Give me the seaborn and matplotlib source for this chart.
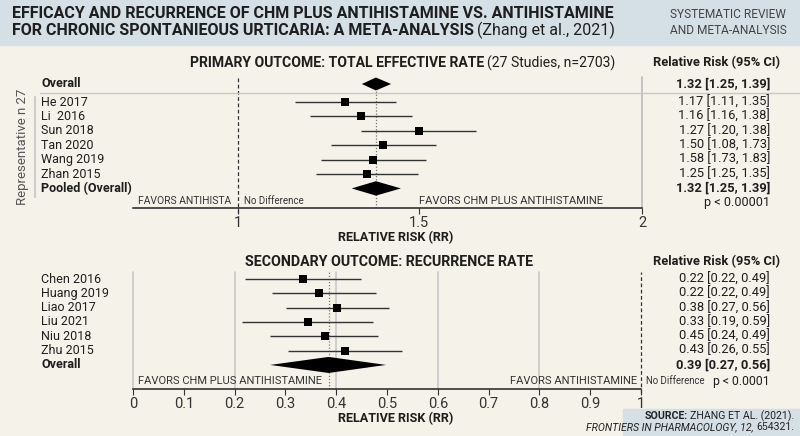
import matplotlib
matplotlib.use("Agg")
import matplotlib.pyplot as plt
import seaborn as sns
import numpy as np
import pandas as pd
from matplotlib.patches import Rectangle
from matplotlib.lines import Line2D
from matplotlib.transforms import blended_transform_factory

# ---------------- data ----------------
primary_labels = ["Overall", "He 2017", "Li  2016", "Sun 2018", "Tan 2020",
                  "Wang 2019", "Zhan 2015", "Pooled (Overall)"]
primary_ci_text = ["1.32 [1.25, 1.39]", "1.17 [1.11, 1.35]", "1.16 [1.16, 1.38]",
                   "1.27 [1.20, 1.38]", "1.50 [1.08, 1.73]", "1.58 [1.73, 1.83]",
                   "1.25 [1.25, 1.35]", "1.32 [1.25, 1.39]"]
primary_study_rr = [1.296, 1.340, 1.499, 1.401, 1.374, 1.356]
primary_study_lo = [1.157, 1.199, 1.340, 1.257, 1.228, 1.215]
primary_study_hi = [1.436, 1.481, 1.628, 1.537, 1.516, 1.497]
primary_overall = [1.381, 1.342, 1.423]   # est, lo, hi (diamond)
primary_pooled = [1.381, 1.314, 1.450]
primary_p = "p < 0.00001"
primary_ticks = [1, 1.5, 2]
primary_tick_labels = ["1", "1.5", "2"]

secondary_labels = ["Chen 2016", "Huang 2019", "Liao 2017", "Liu 2021",
                    "Niu 2018", "Zhu 2015", "Overall"]
secondary_ci_text = ["0.22 [0.22, 0.49]", "0.22 [0.22, 0.49]", "0.38 [0.27, 0.56]",
                     "0.33 [0.19, 0.59]", "0.45 [0.24, 0.49]", "0.43 [0.26, 0.55]",
                     "0.39 [0.27, 0.56]"]
secondary_study_rr = [0.335, 0.366, 0.402, 0.345, 0.377, 0.417]
secondary_study_lo = [0.220, 0.273, 0.301, 0.214, 0.270, 0.305]
secondary_study_hi = [0.449, 0.478, 0.504, 0.473, 0.483, 0.529]
secondary_overall = [0.385, 0.270, 0.498]
secondary_p = "p < 0.0001"
secondary_ticks = [0, 0.1, 0.2, 0.3, 0.4, 0.5, 0.6, 0.7, 0.8, 0.9, 1.0]
secondary_tick_labels = ["0", "0.1", "0.2", "0.3", "0.4", "0.5", "0.6", "0.7", "0.8", "0.9", "1"]
secondary_grid = [0, 0.2, 0.4, 0.6, 0.8]

# ---------------- style ----------------
sns.set_theme(style="white")
NARROW = ["Liberation Sans Narrow", "Roboto", "DejaVu Sans"]
REG = ["Roboto", "DejaVu Sans"]
plt.rcParams["font.family"] = REG

BG = "#f5f2ea"
BAND = "#d5dfe6"
INK = "#1e1e1e"
GREY = "#555555"

W, H = 800, 436
fig = plt.figure(figsize=(W / 100, H / 100), dpi=100, facecolor=BG)
renderer = fig.canvas.get_renderer()


def fr(x0, y0, x1, y1):
    return [x0 / W, 1 - y1 / H, (x1 - x0) / W, (y1 - y0) / H]


def put(x, y, s, size, weight="normal", family=NARROW, ha="left", color=INK,
        style="normal", **kw):
    return fig.text(x / W, 1 - y / H, s, fontsize=size, fontweight=weight,
                    family=family, ha=ha, va="center", color=color,
                    fontstyle=style, **kw)


def x1px(t):
    return t.get_window_extent(renderer).x1


def x0px(t):
    return t.get_window_extent(renderer).x0


def fit(t, width):
    w = t.get_window_extent(renderer).width
    t.set_fontsize(t.get_fontsize() * width / w)


def size_for(s, width, family, weight="normal"):
    t = fig.text(0, 0, s, fontsize=10, family=family, fontweight=weight)
    w = t.get_window_extent(renderer).width
    t.remove()
    return 10 * width / w


# header band and source box
fig.patches.append(Rectangle((0, 1 - 45 / H), 1, 45 / H, transform=fig.transFigure,
                             color=BAND, zorder=0))
fig.patches.append(Rectangle((623 / W, 0), (W - 623) / W, 27 / H,
                             transform=fig.transFigure, color=BAND, zorder=0))

# title
t1 = put(12, 14, "EFFICACY AND RECURRENCE OF CHM PLUS ANTIHISTAMINE VS. ANTIHISTAMINE",
         12, weight="bold")
fit(t1, 600)
ts = t1.get_fontsize()
t2 = put(12, 30.5, "FOR CHRONIC SPONTANIEOUS URTICARIA: A META-ANALYSIS", ts, weight="bold")
put(x1px(t2) + 3, 30.5, "(Zhang et al., 2021)", ts)
h1 = put(670, 15, "SYSTEMATIC REVIEW", 9.5, color="#444444")
fit(h1, 117)
put(670, 30, "AND META-ANALYSIS", h1.get_fontsize(), color="#444444")

LAB_FS = size_for("Wang 2019", 63, REG)
VAL_FS = size_for("1.17 [1.11, 1.35]", 91, REG)

# ---------------- primary panel ----------------
def fwd(x):
    return np.interp(x, [0, 1, 1.5, 2, 3], [238 - 362, 238, 419, 642, 642 + 446])


def inv(p):
    return np.interp(p, [238 - 362, 238, 419, 642, 642 + 446], [0, 1, 1.5, 2, 3])


ax1 = fig.add_axes(fr(133, 77, 642, 208))
ax1.set_facecolor("none")
ax1.set_xscale("function", functions=(fwd, inv))
ax1.set_xlim(inv(133), 2)

n1 = len(primary_study_rr)
y_over1 = 0.0
y_st1 = 1.25 + np.arange(n1)
y_pool1 = y_st1[-1] + 1
ax1.set_ylim(8.61, -0.486)

df1 = pd.DataFrame({"rr": primary_study_rr, "lo": primary_study_lo,
                    "hi": primary_study_hi, "y": y_st1})
ax1.hlines(df1["y"], df1["lo"], df1["hi"], color="#333333", lw=1.0, zorder=3)
sns.scatterplot(data=df1, x="rr", y="y", marker="s", s=38, color="black",
                edgecolor="black", linewidth=0, ax=ax1, legend=False, zorder=4)


def diamond(ax, est, lo, hi, y, h):
    ax.fill([lo, est, hi, est], [y, y - h, y, y + h], color="black", zorder=4, lw=0)


diamond(ax1, *primary_overall, y_over1, 0.45)
diamond(ax1, *primary_pooled, y_pool1, 0.5)

ax1.axvline(1, ymin=-0.04, ymax=1, clip_on=False, ls=(0, (3, 2)), color="#333333", lw=0.9)
ax1.axvline(primary_pooled[0], ymin=0, ymax=0.97, ls=(0, (1, 1.5)), color="#777777", lw=0.9)
ax1.axvline(2, ymin=0, ymax=1, clip_on=False, color="#bbbbbb", lw=1.2)

for s in ["top", "right", "left"]:
    ax1.spines[s].set_visible(False)
ax1.spines["bottom"].set_color("#222222")
ax1.spines["bottom"].set_linewidth(1.1)
ax1.set_xticks(primary_ticks)
ax1.set_xticklabels(primary_tick_labels)
ax1.xaxis.set_minor_locator(matplotlib.ticker.NullLocator())
ax1.tick_params(axis="x", bottom=True, length=4, width=0.8, color="#333333",
                labelsize=10.5, labelcolor="#333333", pad=2)
ax1.set_yticks([])
ax1.set_xlabel("")
ax1.set_ylabel("")
for lab in ax1.get_xticklabels():
    lab.set_family(REG)

tr1 = blended_transform_factory(fig.transFigure, ax1.transData)
ys1 = [y_over1] + list(y_st1) + [y_pool1]
for i, (lab, ci, yy) in enumerate(zip(primary_labels, primary_ci_text, ys1)):
    bold = i == 0 or i == len(primary_labels) - 1
    fig.text(41 / W, yy, lab, transform=tr1, va="center", ha="left", fontsize=LAB_FS,
             fontweight="bold" if bold else "normal", color=INK, family=REG)
    fig.text(770 / W, yy, ci, transform=tr1, va="center", ha="right", fontsize=VAL_FS,
             fontweight="bold" if bold else "normal", color=INK, family=REG)

tp1 = put(190, 63, "PRIMARY OUTCOME: TOTAL EFFECTIVE RATE", 11, weight="bold")
fit(tp1, 295)
put(x1px(tp1) + 3, 63, "(27 Studies, n=2703)", tp1.get_fontsize())
th1 = put(717, 63, "Relative Risk (95% CI)", 10.5, weight="bold", ha="center")
fit(th1, 127)

fig.add_artist(Line2D([40 / W, 1], [1 - 93 / H] * 2, color="#c8c8c8", lw=1))
fig.add_artist(Line2D([35 / W] * 2, [1 - 97 / H, 1 - 197 / H], color="#cccccc", lw=1.5))
put(23, 147, "Representative n 27", 9.5, family=REG, color=GREY, ha="center", rotation=90)

fa = put(138, 201, "FAVORS ANTIHISTA", 8.5, color="#333333")
fit(fa, 93)
nd1 = put(244, 201, "No Difference", 8, color="#333333")
fit(nd1, 60)
fc1 = put(419, 201, "FAVORS CHM PLUS ANTIHISTAMINE", 8.5, color="#333333")
fit(fc1, 183)
fsz = fc1.get_fontsize()
pp1 = put(770, 202, primary_p, 9.0, family=REG, ha="right")
fit(pp1, 66)
xl1 = put(396, 238, "RELATIVE RISK (RR)", 10.5, weight="bold", ha="center")
fit(xl1, 116)

# ---------------- secondary panel ----------------
ax2 = fig.add_axes(fr(133, 272, 641, 389))
ax2.set_facecolor("none")
ax2.set_xlim(0, 1)
ax2.set_ylim(7.68, -0.49)
n2 = len(secondary_study_rr)
y_st2 = np.arange(n2).astype(float)
y_over2 = float(n2)

for g in secondary_grid:
    ax2.axvline(g, color="#c8c8c8", lw=1.2, zorder=1, clip_on=False)
ax2.axvline(1, ymin=-0.03, ymax=1, clip_on=False, ls=(0, (3, 2)), color="#333333", lw=0.9)
ax2.axvline(secondary_overall[0], ls=(0, (1, 1.5)), color="#777777", lw=0.9, zorder=2)

df2 = pd.DataFrame({"rr": secondary_study_rr, "lo": secondary_study_lo,
                    "hi": secondary_study_hi, "y": y_st2})
ax2.hlines(df2["y"], df2["lo"], df2["hi"], color="#333333", lw=1.0, zorder=3)
sns.scatterplot(data=df2, x="rr", y="y", marker="s", s=40, color="black",
                edgecolor="black", linewidth=0, ax=ax2, legend=False, zorder=4)
diamond(ax2, *secondary_overall, y_over2, 0.56)

for s in ["top", "right", "left"]:
    ax2.spines[s].set_visible(False)
ax2.spines["bottom"].set_color("#222222")
ax2.spines["bottom"].set_linewidth(1.1)
ax2.set_xticks(secondary_ticks)
ax2.set_xticklabels(secondary_tick_labels)
ax2.tick_params(axis="x", bottom=True, length=4, width=0.8, color="#333333",
                labelsize=10.5, labelcolor="#333333", pad=2)
ax2.set_yticks([])
ax2.set_xlabel("")
ax2.set_ylabel("")
for lab in ax2.get_xticklabels():
    lab.set_family(REG)

tr2 = blended_transform_factory(fig.transFigure, ax2.transData)
ys2 = list(y_st2) + [y_over2]
for i, (lab, ci, yy) in enumerate(zip(secondary_labels, secondary_ci_text, ys2)):
    bold = i == len(secondary_labels) - 1
    fig.text(41 / W, yy, lab, transform=tr2, va="center", ha="left", fontsize=LAB_FS,
             fontweight="bold" if bold else "normal", color=INK, family=REG)
    fig.text(770 / W, yy, ci, transform=tr2, va="center", ha="right", fontsize=VAL_FS,
             fontweight="bold" if bold else "normal", color=INK, family=REG)

tp2 = put(389, 262, "SECONDARY OUTCOME: RECURRENCE RATE", 11, weight="bold", ha="center")
fit(tp2, 287)
th2 = put(717, 262, "Relative Risk (95% CI)", 10.5, weight="bold", ha="center")
fit(th2, 127)

put(138, 381, "FAVORS CHM PLUS ANTIHISTAMINE", fsz, color="#333333")
put(637, 381, "FAVORS ANTIHISTAMINE", fsz, color="#333333", ha="right")
nd2 = put(646, 381, "No Difference", 8, color="#333333")
fit(nd2, 59)
pp2 = put(770, 381, secondary_p, 9.8, family=REG, ha="right")
fit(pp2, 57)
xl2 = put(396, 419, "RELATIVE RISK (RR)", 10.5, weight="bold", ha="center")
fit(xl2, 116)

# source
s1 = put(794, 416, "ZHANG ET AL. (2021).", 7.6, ha="right", color="#222222")
put(x0px(s1) - 2, 416, "SOURCE:", 7.6, ha="right", weight="bold", color="#222222")
s2 = put(794, 427, "654321.", 7.6, ha="right", color="#222222")
put(x0px(s2) - 2, 427, "FRONTIERS IN PHARMACOLOGY, 12,", 7.6, ha="right",
    style="italic", color="#222222")

fig.savefig("out.png", dpi=100, facecolor=BG)
